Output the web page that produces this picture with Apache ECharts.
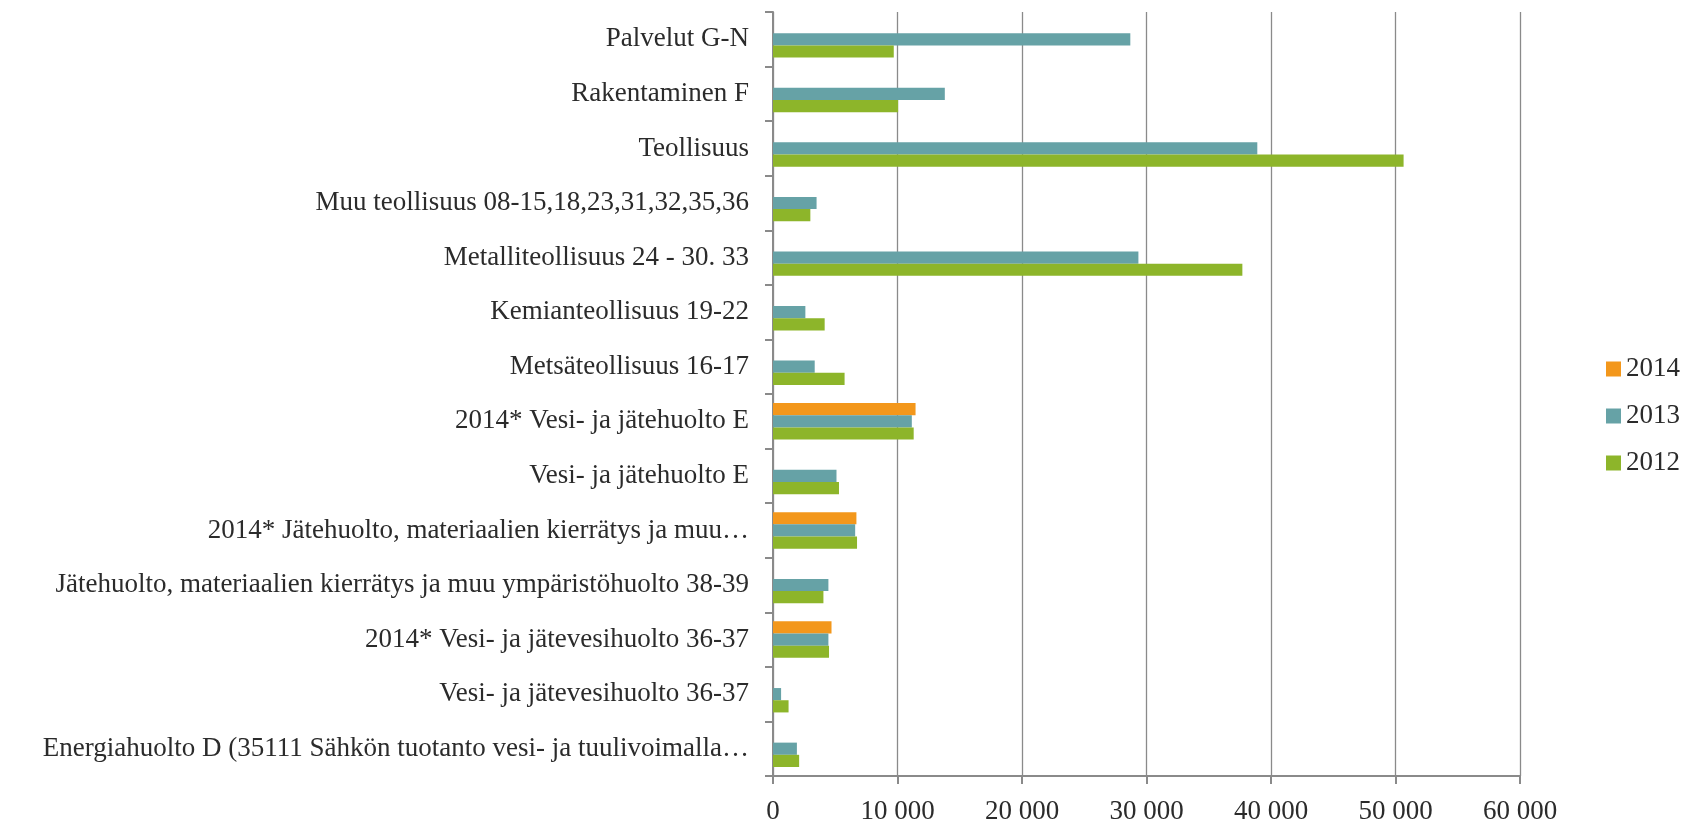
<!DOCTYPE html>
<html>
<head>
<meta charset="utf-8">
<script src="https://cdn.jsdelivr.net/npm/echarts@6/dist/echarts.min.js"></script>
<style>
  html, body { margin: 0; padding: 0; background: #fff; }
  #chart { width: 1694px; height: 825px; }
</style>
</head>
<body>
<div id="chart"></div>
<script>
const categories = [
  "Palvelut G-N",
  "Rakentaminen F",
  "Teollisuus",
  "Muu teollisuus 08-15,18,23,31,32,35,36",
  "Metalliteollisuus 24 - 30. 33",
  "Kemianteollisuus 19-22",
  "Metsäteollisuus 16-17",
  "2014* Vesi- ja jätehuolto E",
  "Vesi- ja jätehuolto E",
  "2014* Jätehuolto, materiaalien kierrätys ja muu…",
  "Jätehuolto, materiaalien kierrätys ja muu ympäristöhuolto 38-39",
  "2014* Vesi- ja jätevesihuolto 36-37",
  "Vesi- ja jätevesihuolto 36-37",
  "Energiahuolto D (35111 Sähkön tuotanto vesi- ja tuulivoimalla…"
];

const years = ["2014", "2013", "2012"];

const values2014 = [null, null, null, null, null, null, null, 11450, null, 6700, null, 4700, null, null];
const values2013 = [28700, 13800, 38900, 3500, 29350, 2600, 3350, 11150, 5100, 6600, 4450, 4450, 650, 1920];
const values2012 = [9700, 10050, 50650, 3000, 37700, 4150, 5750, 11300, 5300, 6750, 4050, 4500, 1250, 2100];

const colors = ["#f3971b", "#66a2a6", "#8db52a"];

const font = "Liberation Serif";

const chart = echarts.init(document.getElementById("chart"));

function bar(name, data, color) {
  return {
    name: name,
    type: "bar",
    data: data,
    barGap: "0%",
    barCategoryGap: "33%",
    itemStyle: { color: color },
    animation: false
  };
}

chart.setOption({
  animation: false,
  textStyle: { fontFamily: font },
  grid: { left: 773, right: 174, top: 12, bottom: 45, containLabel: false },
  legend: {
    data: years,
    orient: "vertical",
    left: 1601,
    top: 349,
    itemWidth: 15,
    itemHeight: 15,
    itemGap: 17,
    icon: "rect",
    textStyle: { fontFamily: font, fontSize: 27, color: "#2b2b2b", lineHeight: 30 }
  },
  xAxis: {
    type: "value",
    min: 0,
    max: 60000,
    interval: 10000,
    axisLine: { show: true, lineStyle: { color: "#8a8a8a", width: 2 } },
    axisTick: { show: true, length: 8, lineStyle: { color: "#8a8a8a", width: 2 } },
    splitLine: { show: true, lineStyle: { color: "#8a8a8a", width: 1.3 } },
    axisLabel: {
      margin: 22,
      fontFamily: font,
      fontSize: 27,
      color: "#2b2b2b",
      formatter: v => v === 0 ? "0" : String(v).replace(/\B(?=(\d{3})+(?!\d))/g, " ")
    }
  },
  yAxis: {
    type: "category",
    inverse: true,
    data: categories,
    axisLine: { show: true, lineStyle: { color: "#8a8a8a", width: 2 } },
    axisTick: { show: true, length: 8, lineStyle: { color: "#8a8a8a", width: 2 } },
    axisLabel: { margin: 24, fontFamily: font, fontSize: 27, color: "#2b2b2b" }
  },
  series: [
    bar("2014", values2014, colors[0]),
    bar("2013", values2013, colors[1]),
    bar("2012", values2012, colors[2])
  ]
});
</script>
</body>
</html>
